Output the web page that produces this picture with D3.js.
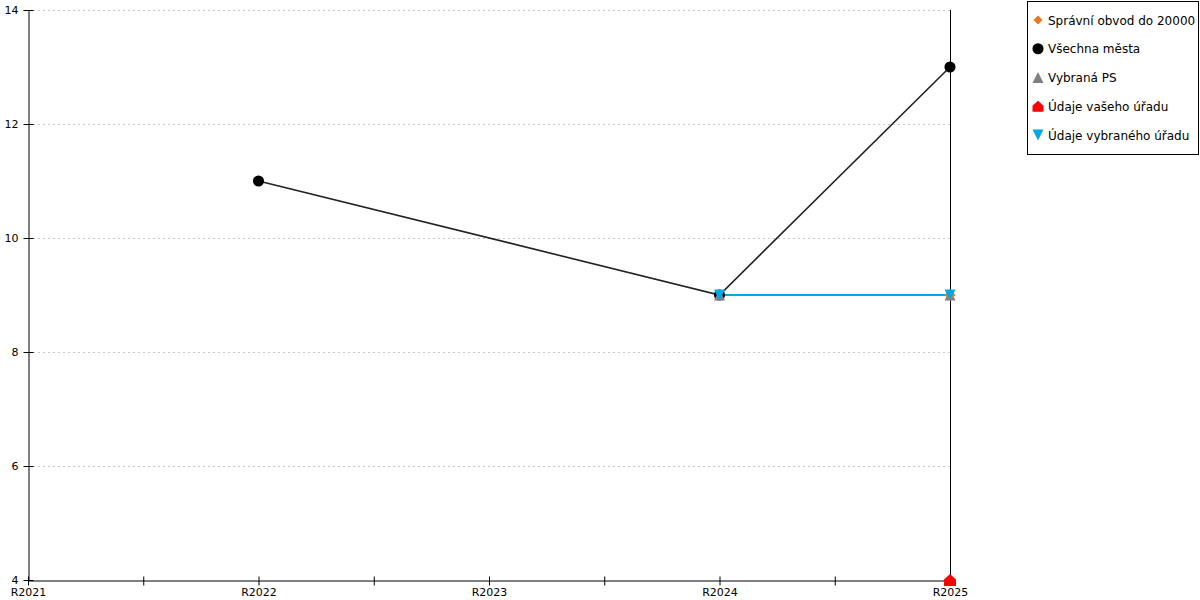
<!DOCTYPE html>
<html><head><meta charset="utf-8">
<script src="https://cdn.jsdelivr.net/npm/d3@7"></script>
<style>body{margin:0;background:#fff}svg{display:block;font-family:"DejaVu Sans",Verdana,sans-serif}</style>
</head><body><svg id="c" width="1200" height="600"></svg>
<script>
const years = [2021, 2022, 2023, 2024, 2025];
const yTicks = [4, 6, 8, 10, 12, 14];
const seriesNames = ["Správní obvod do 20000", "Všechna města", "Vybraná PS", "Údaje vašeho úřadu", "Údaje vybraného úřadu"];
const seriesColors = ["#e87722", "#000000", "#808080", "#ff0000", "#00a8e8"];
const seriesShapes = ["diamond", "circle", "triangle", "house", "triangleDown"];
const spravniObvod = [{x: 2025, y: 9}];
const vsechnaMesta = [{x: 2022, y: 11}, {x: 2024, y: 9}, {x: 2025, y: 13}];
const vybranaPS = [{x: 2024, y: 9}, {x: 2025, y: 9}];
const vasUrad = [{x: 2025, y: 4}];
const vybranyUrad = [{x: 2024, y: 9}, {x: 2025, y: 9}];
const seriesData = [spravniObvod, vsechnaMesta, vybranaPS, vasUrad, vybranyUrad];

const svg = d3.select("#c");
const L = 28, R = 950, T = 10, B = 580;
const x = d3.scaleLinear().domain([2021, 2025]).range([L, R]);
const y = d3.scaleLinear().domain([4, 14]).range([B, T]);

// grid
svg.append("g").selectAll("line").data(yTicks.filter(d => d > 4)).join("line")
  .attr("x1", L).attr("x2", R).attr("y1", d => y(d) + 0.5).attr("y2", d => y(d) + 0.5)
  .attr("stroke", "#c8c8c8").attr("stroke-dasharray", "2,3");

// y axis
const ya = svg.append("g").attr("transform", `translate(${L + 0.5},0)`)
  .call(d3.axisLeft(y).tickValues(yTicks).tickSizeInner(5).tickSizeOuter(0).tickPadding(5).tickFormat(d3.format("d")));
ya.selectAll("text").attr("font-size", 11).attr("fill", "#000").attr("font-family", "DejaVu Sans, Verdana, sans-serif");
ya.select(".domain").attr("stroke", "#000");
ya.selectAll(".tick line").attr("x1", -5).attr("x2", 5).attr("stroke", "#000");

// x axis
const halfTicks = d3.range(2021, 2025.01, 0.5);
const xa = svg.append("g").attr("transform", `translate(0,${B + 0.5})`)
  .call(d3.axisBottom(x).tickValues(halfTicks).tickSizeInner(5).tickSizeOuter(0).tickPadding(3)
    .tickFormat(d => Number.isInteger(d) ? "R" + d : ""));
xa.selectAll("text").attr("font-size", 11).attr("fill", "#000").attr("font-family", "DejaVu Sans, Verdana, sans-serif");
xa.select(".domain").attr("stroke", "#000");
xa.selectAll(".tick line").attr("y1", -4).attr("y2", 5).attr("stroke", "#000");

// right vertical line at last year
svg.append("line").attr("x1", x(2025) + 0.5).attr("x2", x(2025) + 0.5).attr("y1", T).attr("y2", B)
  .attr("stroke", "#000");

// shapes
function shapePath(s, size) {
  const r = size / 2;
  if (s === "circle") return d3.symbol(d3.symbolCircle, size * size * 0.8)();
  if (s === "diamond") return `M0,${-r}L${r},0L0,${r}L${-r},0Z`;
  if (s === "triangle") return `M0,${-r}L${r},${r}L${-r},${r}Z`;
  if (s === "triangleDown") return `M${-r},${-r}L${r},${-r}L0,${r}Z`;
  if (s === "house") return `M0,${-r}L${r},${-r * 0.1}L${r},${r}L${-r},${r}L${-r},${-r * 0.1}Z`;
}

const line = d3.line().x(d => x(d.x)).y(d => y(d.y));
const lineWidths = [2, 1.6, 1.5, 2, 2];
const lineColors = ["#e87722", "#222", "#808080", "#ff0000", "#00a8e8"];
const order = [1, 2, 0, 3, 4];
order.forEach(i => {
  if (seriesData[i].length > 1)
    svg.append("path").attr("d", line(seriesData[i])).attr("fill", "none")
      .attr("stroke", lineColors[i]).attr("stroke-width", lineWidths[i]);
});
const sizes = [11, 11, 11, 12, 11];
order.forEach(i => {
  svg.append("g").selectAll("path").data(seriesData[i]).join("path")
    .attr("transform", d => `translate(${x(d.x)},${y(d.y)})`)
    .attr("d", shapePath(seriesShapes[i], sizes[i])).attr("fill", seriesColors[i]);
});

// legend
const lg = svg.append("g");
lg.append("rect").attr("x", 1027.5).attr("y", 1.5).attr("width", 171).attr("height", 153)
  .attr("fill", "#fff").attr("stroke", "#000");
seriesNames.forEach((n, i) => {
  const cy = 20 + i * 28.75;
  lg.append("path").attr("transform", `translate(1038,${cy})`)
    .attr("d", shapePath(seriesShapes[i], i === 0 ? 9 : 11)).attr("fill", seriesColors[i]);
  lg.append("text").attr("x", 1048).attr("y", cy + 4.5).attr("font-size", 12).text(n);
});
</script></body></html>
